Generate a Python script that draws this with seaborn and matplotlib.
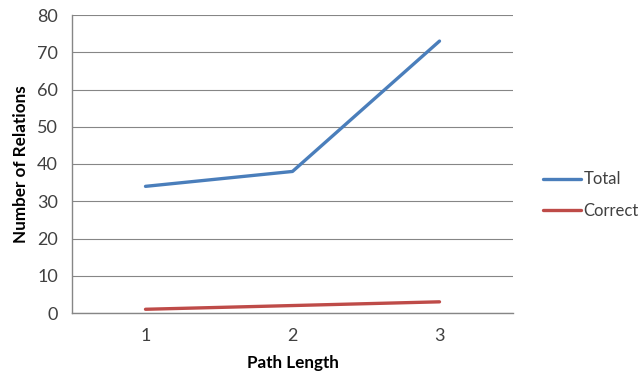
import matplotlib
matplotlib.use("Agg")
import matplotlib.pyplot as plt
import seaborn as sns
import pandas as pd

path_length = ["1", "2", "3"]
total = [34, 38, 73]
correct = [1, 2, 3]
series_names = ["Total", "Correct"]
colors = ["#4A7EBB", "#BE4B48"]
y_ticks = [0, 10, 20, 30, 40, 50, 60, 70, 80]

sns.set_style("white")
plt.rcParams['font.family'] = ['Lato', 'DejaVu Sans']

rows = []
for i, lab in enumerate(path_length):
    rows.append({"x": i, "value": total[i], "series": series_names[0]})
    rows.append({"x": i, "value": correct[i], "series": series_names[1]})
df = pd.DataFrame(rows)

fig = plt.figure(figsize=(6.41, 3.77), dpi=100)
ax = fig.add_axes([72/641, 1-313/377, (513-72)/641, (313-15)/377])
sns.lineplot(data=df, x="x", y="value", hue="series", hue_order=series_names,
             palette=colors, linewidth=2.4, ax=ax, legend=True)

ax.set_xlim(-0.5, 2.5)
ax.set_ylim(0, 80)
ax.set_yticks(y_ticks)
ax.set_yticklabels([str(t) for t in y_ticks], fontsize=13, color="#404040")
ax.set_xticks(range(len(path_length)))
ax.set_xticklabels(path_length, fontsize=13, color="#404040")
ax.set_xticks([-0.5, 0.5, 1.5, 2.5], minor=True)
ax.tick_params(axis="x", which="major", length=0, pad=11)
ax.tick_params(axis="x", which="minor", length=5, color="#868686", width=1)
ax.tick_params(axis="y", which="major", length=6, color="#868686", width=1, pad=4)
ax.grid(axis="y", color="#868686", linewidth=0.8)
ax.set_axisbelow(True)
for s in ["top", "right"]:
    ax.spines[s].set_visible(False)
for s in ["left", "bottom"]:
    ax.spines[s].set_color("#868686")
    ax.spines[s].set_linewidth(1)

ax.set_xlabel("Path Length", fontsize=12.3, fontweight="bold", color="black", labelpad=8)
ax.set_ylabel("Number of Relations", fontsize=12.3, fontweight="bold", color="black", labelpad=6)

leg = ax.legend(loc="center left", bbox_to_anchor=(1.037, 0.395), frameon=False,
                fontsize=12, handlelength=2.3, handletextpad=0.15, labelspacing=0.95,
                borderaxespad=0.4)
for t in leg.get_texts():
    t.set_color("#404040")

fig.savefig("out.png", dpi=100)
